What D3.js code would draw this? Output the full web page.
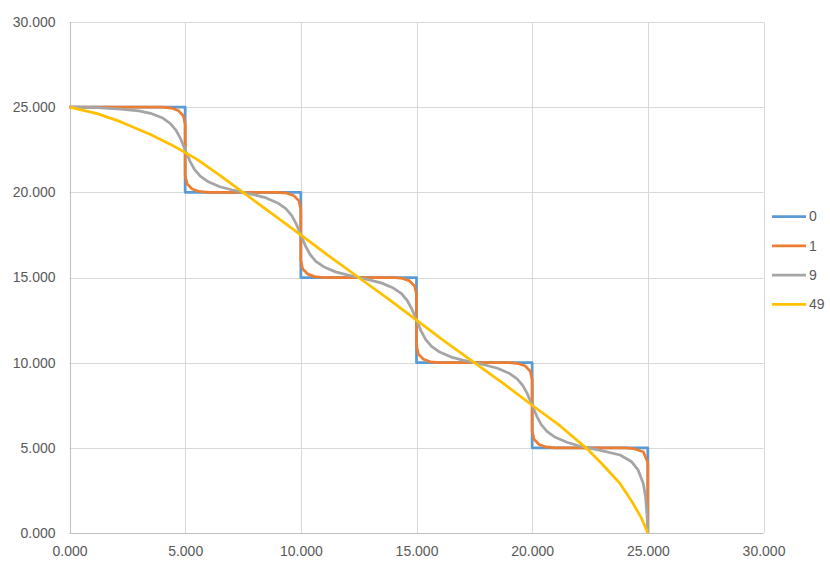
<!DOCTYPE html>
<html>
<head>
<meta charset="utf-8">
<script src="https://cdn.jsdelivr.net/npm/d3@7"></script>
<style>
  body { margin: 0; background: #fff; }
  svg { display: block; }
  text { font-family: "Liberation Sans", Arial, sans-serif; fill: #595959; }
</style>
</head>
<body>
<div id="chart"></div>
<script>
const width = 830
const height = 564

const seriesNames = ["0", "1", "9", "49"]
const seriesColors = ["#5b9bd5", "#ed7d31", "#a5a5a5", "#ffc000"]

const xTicks = [0, 5, 10, 15, 20, 25, 30]
const yTicks = [0, 5, 10, 15, 20, 25, 30]

// series "0" - the plain staircase
const s0 = [
  [0, 25], [5, 25], [5, 20], [10, 20], [10, 15], [15, 15],
  [15, 10], [20, 10], [20, 5], [25, 5], [25, 0]
]

// series "1"
const s1 = [
  [0, 25], [4, 25], [4.4, 24.95], [4.7, 24.8], [4.92, 24.5], [5, 24], [5, 21], [5.08, 20.5], [5.3, 20.2], [5.6, 20.05], [6, 20],
  [9, 20], [9.4, 19.95], [9.7, 19.8], [9.92, 19.5], [10, 19], [10, 16], [10.08, 15.5], [10.3, 15.2], [10.6, 15.05], [11, 15],
  [14, 15], [14.4, 14.95], [14.7, 14.8], [14.92, 14.5], [15, 14], [15, 11], [15.08, 10.5], [15.3, 10.2], [15.6, 10.05], [16, 10],
  [19, 10], [19.4, 9.95], [19.7, 9.8], [19.92, 9.5], [20, 9], [20, 6], [20.08, 5.5], [20.3, 5.2], [20.6, 5.05], [21, 5],
  [24, 5], [24.4, 4.95], [24.8, 4.77], [25, 4.15], [25, 0]
]

// series "9"
const s9 = [
  [0, 25], [1.2, 24.97], [2.2, 24.88], [3, 24.78], [3.5, 24.64], [4, 24.38], [4.35, 24.05], [4.6, 23.65], [4.8, 23.15], [5, 22.5],
  [5.2, 21.85], [5.4, 21.35], [5.65, 20.95], [6, 20.62], [6.5, 20.33], [7, 20.15], [7.5, 20],
  [8, 19.85], [8.5, 19.67], [9, 19.38], [9.35, 19.05], [9.6, 18.65], [9.8, 18.15], [10, 17.5],
  [10.2, 16.85], [10.4, 16.35], [10.65, 15.95], [11, 15.62], [11.5, 15.33], [12, 15.15], [12.5, 15],
  [13, 14.85], [13.5, 14.67], [14, 14.38], [14.35, 14.05], [14.6, 13.65], [14.8, 13.15], [15, 12.5],
  [15.2, 11.85], [15.4, 11.35], [15.65, 10.95], [16, 10.62], [16.5, 10.33], [17, 10.15], [17.5, 10],
  [18, 9.85], [18.5, 9.67], [19, 9.38], [19.35, 9.05], [19.6, 8.65], [19.8, 8.15], [20, 7.5],
  [20.2, 6.85], [20.4, 6.35], [20.65, 5.95], [21, 5.62], [21.5, 5.33], [22, 5.12], [22.9, 4.87],
  [23.8, 4.58], [24.3, 4.18], [24.58, 3.7], [24.8, 2.92], [24.9, 2.13], [24.97, 0.96], [25, 0]
]

// series "49"
const s49 = [
  [0, 25], [1.2, 24.62], [2.2, 24.15], [3.5, 23.4], [4.5, 22.72], [5.5, 21.95], [6.5, 21], [7.5, 20],
  [8.75, 18.75], [10, 17.5], [11.25, 16.22], [12.5, 15], [13.75, 13.78], [15, 12.5], [16.25, 11.22],
  [17.5, 10], [18.75, 8.78], [20, 7.5], [21.2, 6.3], [22.35, 4.97], [22.93, 4.18], [23.79, 2.92],
  [24.36, 1.74], [24.73, 0.86], [25, 0]
]

const allSeries = [s0, s1, s9, s49]

const x = d3.scaleLinear().domain([0, 30]).range([69.5, 763.5])
const y = d3.scaleLinear().domain([0, 30]).range([533, 22])

const svg = d3.select("#chart")
  .append("svg")
    .attr("width", width)
    .attr("height", height)

// gridlines
svg.append("g")
  .selectAll("line")
  .data(yTicks)
  .join("line")
    .attr("x1", x(0))
    .attr("x2", x(30))
    .attr("y1", d => Math.round(y(d)) + 0.5)
    .attr("y2", d => Math.round(y(d)) + 0.5)
    .attr("stroke", d => d === 0 ? "#bfbfbf" : "#d9d9d9")
    .attr("stroke-width", 1)

svg.append("g")
  .selectAll("line")
  .data(xTicks)
  .join("line")
    .attr("y1", y(0))
    .attr("y2", y(30))
    .attr("x1", d => Math.round(x(d)) + 0.5)
    .attr("x2", d => Math.round(x(d)) + 0.5)
    .attr("stroke", d => d === 0 ? "#bfbfbf" : "#d9d9d9")
    .attr("stroke-width", 1)

const fmt = d3.format(".3f")

// axes (labels only)
const xAxis = svg.append("g")
    .attr("transform", `translate(0,${y(0)})`)
    .call(d3.axisBottom(x).tickValues(xTicks).tickFormat(fmt).tickSize(0).tickPadding(13))
xAxis.select(".domain").remove()
xAxis.selectAll("text")
    .attr("font-family", "Liberation Sans, Arial, sans-serif")
    .attr("font-size", 14)
    .attr("fill", "#595959")

const yAxis = svg.append("g")
    .attr("transform", `translate(${x(0)},0)`)
    .call(d3.axisLeft(y).tickValues(yTicks).tickFormat(fmt).tickSize(0).tickPadding(14))
yAxis.select(".domain").remove()
yAxis.selectAll("text")
    .attr("font-family", "Liberation Sans, Arial, sans-serif")
    .attr("font-size", 14)
    .attr("fill", "#595959")

// series lines
const line = d3.line()
    .x(d => x(d[0]))
    .y(d => y(d[1]))

svg.append("g")
  .selectAll("path")
  .data(allSeries)
  .join("path")
    .attr("d", line)
    .attr("fill", "none")
    .attr("stroke", (d, i) => seriesColors[i])
    .attr("stroke-width", 2.75)
    .attr("stroke-linejoin", "round")

// legend
const legend = svg.append("g")
  .selectAll("g")
  .data(seriesNames)
  .join("g")
    .attr("transform", (d, i) => `translate(772,${216.5 + i * 29.3})`)

legend.append("line")
    .attr("x1", 0)
    .attr("x2", 34)
    .attr("stroke", (d, i) => seriesColors[i])
    .attr("stroke-width", 2.75)

legend.append("text")
    .attr("x", 37)
    .attr("dy", "0.35em")
    .attr("font-size", 14)
    .text(d => d)
</script>
</body>
</html>
